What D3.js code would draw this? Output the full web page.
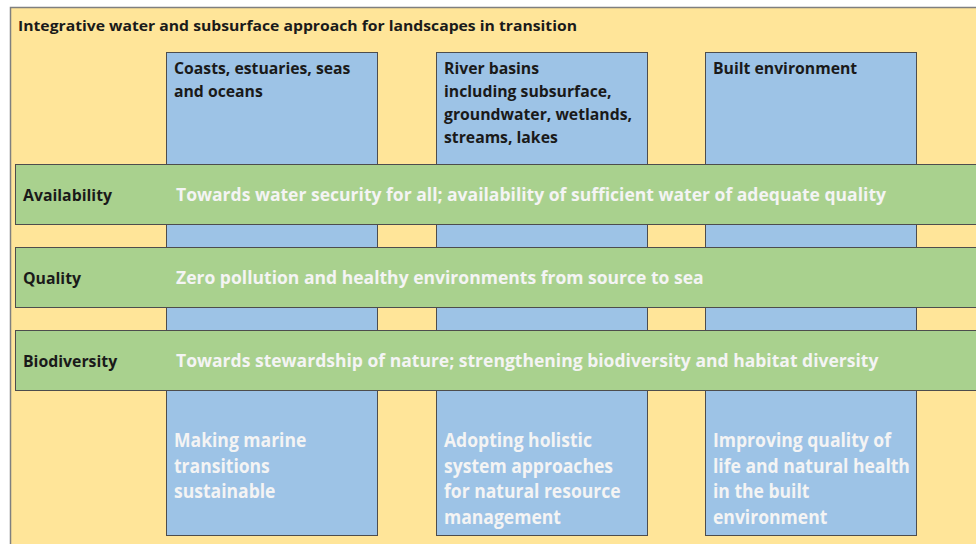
<!DOCTYPE html>
<html><head><meta charset="utf-8">
<script src="https://cdn.jsdelivr.net/npm/d3@7"></script>
<style>html,body{margin:0;padding:0;background:#fff;overflow:hidden}svg{display:block}</style>
</head><body>
<svg id="c" width="976" height="544"></svg>
<script>
const title = "Integrative water and subsurface approach for landscapes in transition";
const columns = ["coasts", "rivers", "built"];
const columnHeadings = [
  ["Coasts, estuaries, seas", "and oceans"],
  ["River basins", "including subsurface,", "groundwater, wetlands,", "streams, lakes"],
  ["Built environment"]
];
const columnGoals = [
  ["Making marine", "transitions", "sustainable"],
  ["Adopting holistic", "system approaches", "for natural resource", "management"],
  ["Improving quality of", "life and natural health", "in the built", "environment"]
];
const bandLabels = ["Availability", "Quality", "Biodiversity"];
const bandTexts = [
  "Towards water security for all; availability of sufficient water of adequate quality",
  "Zero pollution and healthy environments from source to sea",
  "Towards stewardship of nature; strengthening biodiversity and habitat diversity"
];

const W = 976, H = 544;
const FONT = "'Open Sans', 'Noto Sans', sans-serif";
const C = { yellow: "#FFE599", blue: "#9DC3E6", green: "#A9D18E", stroke: "#4d4d4d", frame: "#7f7f7f", light: "#F4F4F4", dark: "#1a1a1a" };

const svg = d3.select("#c");

const x = d3.scaleBand().domain(columns).range([166, 916]).paddingInner(59 / 270).paddingOuter(0);
const y = d3.scaleBand().domain(bandLabels).range([164, 390]).paddingInner(23 / 83).paddingOuter(0);

// horizontal compression per text style, calibrated on one reference line of that style
function styleSqueeze(size, sample, target) {
  const tmp = svg.append("text").attr("font-family", FONT).attr("font-weight", 700)
    .attr("font-size", size).text(sample);
  const k = target / tmp.node().getComputedTextLength();
  tmp.remove();
  return k;
}
function squeeze(k) {
  return sel => sel.each(function () {
    const n = this.getComputedTextLength();
    d3.select(this).attr("textLength", n * k).attr("lengthAdjust", "spacingAndGlyphs");
  });
}

const S = {
  title: { size: 15, k: styleSqueeze(15, title, 559) },
  head: { size: 15.5, k: styleSqueeze(15.5, "groundwater, wetlands,", 188) },
  label: { size: 15.5, k: styleSqueeze(15.5, "Availability", 89) },
  band: { size: 17, k: styleSqueeze(17, bandTexts[0], 710) },
  goal: { size: 19, k: styleSqueeze(19, "system approaches", 169) }
};

// background frame
svg.append("rect").attr("x", 10.5).attr("y", 7.5).attr("width", W + 10).attr("height", H + 10)
  .attr("fill", C.yellow).attr("stroke", C.frame).attr("stroke-width", 1.5);

svg.append("text").attr("x", 18).attr("y", 31).attr("font-family", FONT).attr("font-weight", 700)
  .attr("font-size", S.title.size).attr("fill", C.dark).text(title).call(squeeze(S.title.k));

// columns
const col = svg.selectAll("g.col").data(columns).join("g").attr("class", "col");
col.append("rect").attr("x", d => Math.round(x(d)) + 0.5).attr("y", 52.5)
  .attr("width", Math.round(x.bandwidth())).attr("height", 483)
  .attr("fill", C.blue).attr("stroke", C.stroke).attr("stroke-width", 1);

col.each(function (d, i) {
  const g = d3.select(this);
  const x0 = Math.round(x(d)) + 8;
  g.selectAll("text.h").data(columnHeadings[i]).join("text").attr("class", "h")
    .attr("x", x0).attr("y", (t, j) => 74 + j * 23)
    .attr("font-family", FONT).attr("font-weight", 700).attr("font-size", S.head.size)
    .attr("fill", C.dark).text(t => t).call(squeeze(S.head.k));
  g.selectAll("text.g").data(columnGoals[i]).join("text").attr("class", "g")
    .attr("x", x0).attr("y", (t, j) => 447 + j * 25.7)
    .attr("font-family", FONT).attr("font-weight", 700).attr("font-size", S.goal.size)
    .attr("fill", C.light).text(t => t).call(squeeze(S.goal.k));
});

// bands
const band = svg.selectAll("g.band").data(bandLabels).join("g").attr("class", "band");
band.append("rect").attr("x", 15.5).attr("y", d => Math.round(y(d)) + 0.5)
  .attr("width", W).attr("height", Math.round(y.bandwidth()))
  .attr("fill", C.green).attr("stroke", C.stroke).attr("stroke-width", 1);
band.append("text").attr("x", 23).attr("y", d => y(d) + y.bandwidth() / 2 + 6.5)
  .attr("font-family", FONT).attr("font-weight", 700).attr("font-size", S.label.size)
  .attr("fill", C.dark).text(d => d).call(squeeze(S.label.k));
band.append("text").attr("x", 176).attr("y", d => y(d) + y.bandwidth() / 2 + 6.5)
  .attr("font-family", FONT).attr("font-weight", 700).attr("font-size", S.band.size)
  .attr("fill", C.light).text((d, i) => bandTexts[i]).call(squeeze(S.band.k));
</script>
</body></html>
